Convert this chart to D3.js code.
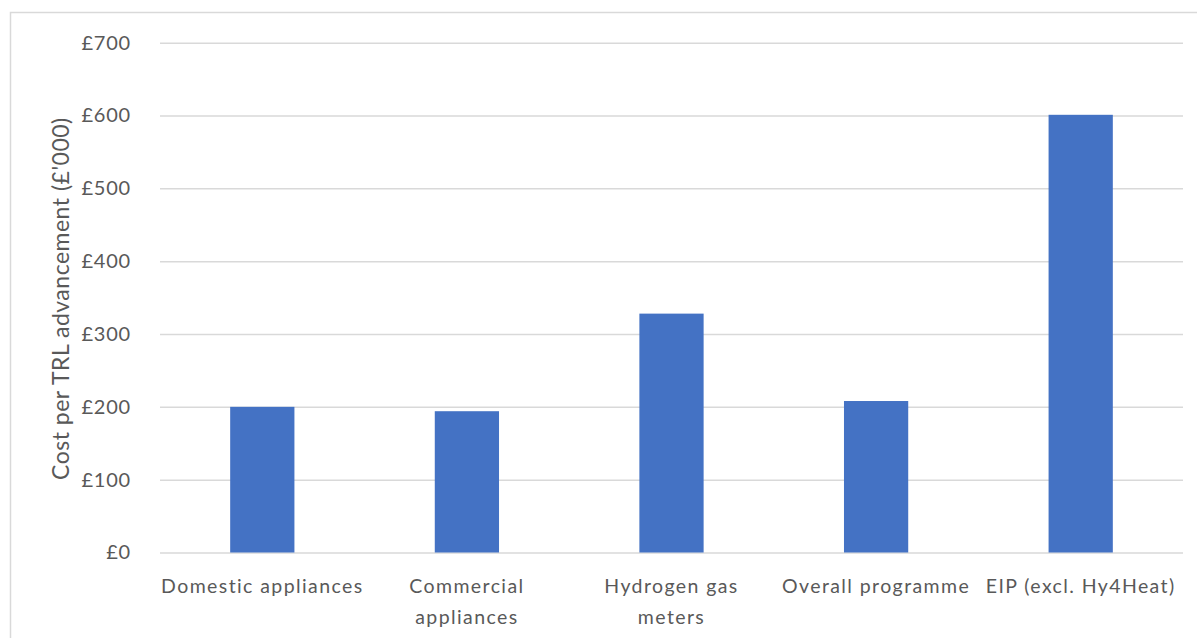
<!DOCTYPE html>
<html>
<head>
<meta charset="utf-8">
<script src="https://cdn.jsdelivr.net/npm/d3@7"></script>
<style>
  html, body { margin: 0; padding: 0; background: #ffffff; }
  svg { display: block; }
  svg text { font-family: Lato, "Open Sans", sans-serif; fill: #595959; }
</style>
</head>
<body>
<svg id="chart" width="1197" height="638"></svg>
<script>
// Cost per TRL advancement by programme area (£'000)
const categories = [
  "Domestic appliances",
  "Commercial appliances",
  "Hydrogen gas meters",
  "Overall programme",
  "EIP (excl. Hy4Heat)"
];
// How each category label is split across lines under the axis
const categoryLines = [
  ["Domestic appliances"],
  ["Commercial", "appliances"],
  ["Hydrogen gas", "meters"],
  ["Overall programme"],
  ["EIP (excl. Hy4Heat)"]
];
const costValues = [200, 194, 328, 208, 601];
const yTicks = [0, 100, 200, 300, 400, 500, 600, 700];
const yTitle = "Cost per TRL advancement (£'000)";

const svg = d3.select("#chart");
const W = 1197, H = 638;
const margin = { left: 160, right: 14, top: 42.7, bottom: 85.5 };

// Outer chart frame
svg.append("rect")
  .attr("x", 10.5).attr("y", 12.5)
  .attr("width", W).attr("height", H)
  .attr("fill", "none").attr("stroke", "#d9d9d9").attr("stroke-width", 1.5);

const x = d3.scaleBand()
  .domain(categories)
  .range([margin.left, W - margin.right])
  .paddingInner(0.686).paddingOuter(0.343);

const y = d3.scaleLinear()
  .domain([0, 700])
  .range([H - margin.bottom, margin.top]);

// Horizontal gridlines and £ tick labels
const yAxis = d3.axisLeft(y)
  .tickValues(yTicks)
  .tickSize(-(W - margin.right - margin.left))
  .tickPadding(29)
  .tickFormat(d => "£" + d);

const gy = svg.append("g")
  .attr("transform", `translate(${margin.left},0)`)
  .call(yAxis);
gy.attr("font-family", null).attr("font-size", null);
gy.select(".domain").remove();
gy.selectAll(".tick line").attr("stroke", "#d9d9d9").attr("stroke-width", 1.5);
gy.selectAll(".tick text")
  .attr("fill", "#595959")
  .style("font-size", "20px")
  .style("letter-spacing", "0.8px");

// Bars
svg.append("g").selectAll("rect")
  .data(categories)
  .join("rect")
  .attr("x", d => x(d))
  .attr("width", x.bandwidth())
  .attr("y", (d, i) => y(costValues[i]))
  .attr("height", (d, i) => y(0) - y(costValues[i]))
  .attr("fill", "#4472c4");

// Category labels beneath the axis
const xAxis = d3.axisBottom(x).tickSize(0).tickFormat("");
const gx = svg.append("g")
  .attr("transform", `translate(0,${y(0)})`)
  .call(xAxis);
gx.attr("font-family", null).attr("font-size", null);
gx.select(".domain").remove();
gx.selectAll(".tick").each(function(d, i) {
  const t = d3.select(this).append("text")
    .attr("fill", "#595959")
    .attr("text-anchor", "middle")
    .style("font-size", "19.5px")
    .style("letter-spacing", "1.4px");
  categoryLines[i].forEach((line, k) => {
    t.append("tspan").attr("x", 0).attr("y", 40 + k * 31).text(line);
  });
});

// Axis title
svg.append("text")
  .attr("transform", `translate(69,${(y(0) + y(700)) / 2 + 1}) rotate(-90)`)
  .attr("text-anchor", "middle")
  .attr("fill", "#595959")
  .style("font-size", "23px")
  .style("letter-spacing", "0.5px")
  .text(yTitle);
</script>
</body>
</html>
